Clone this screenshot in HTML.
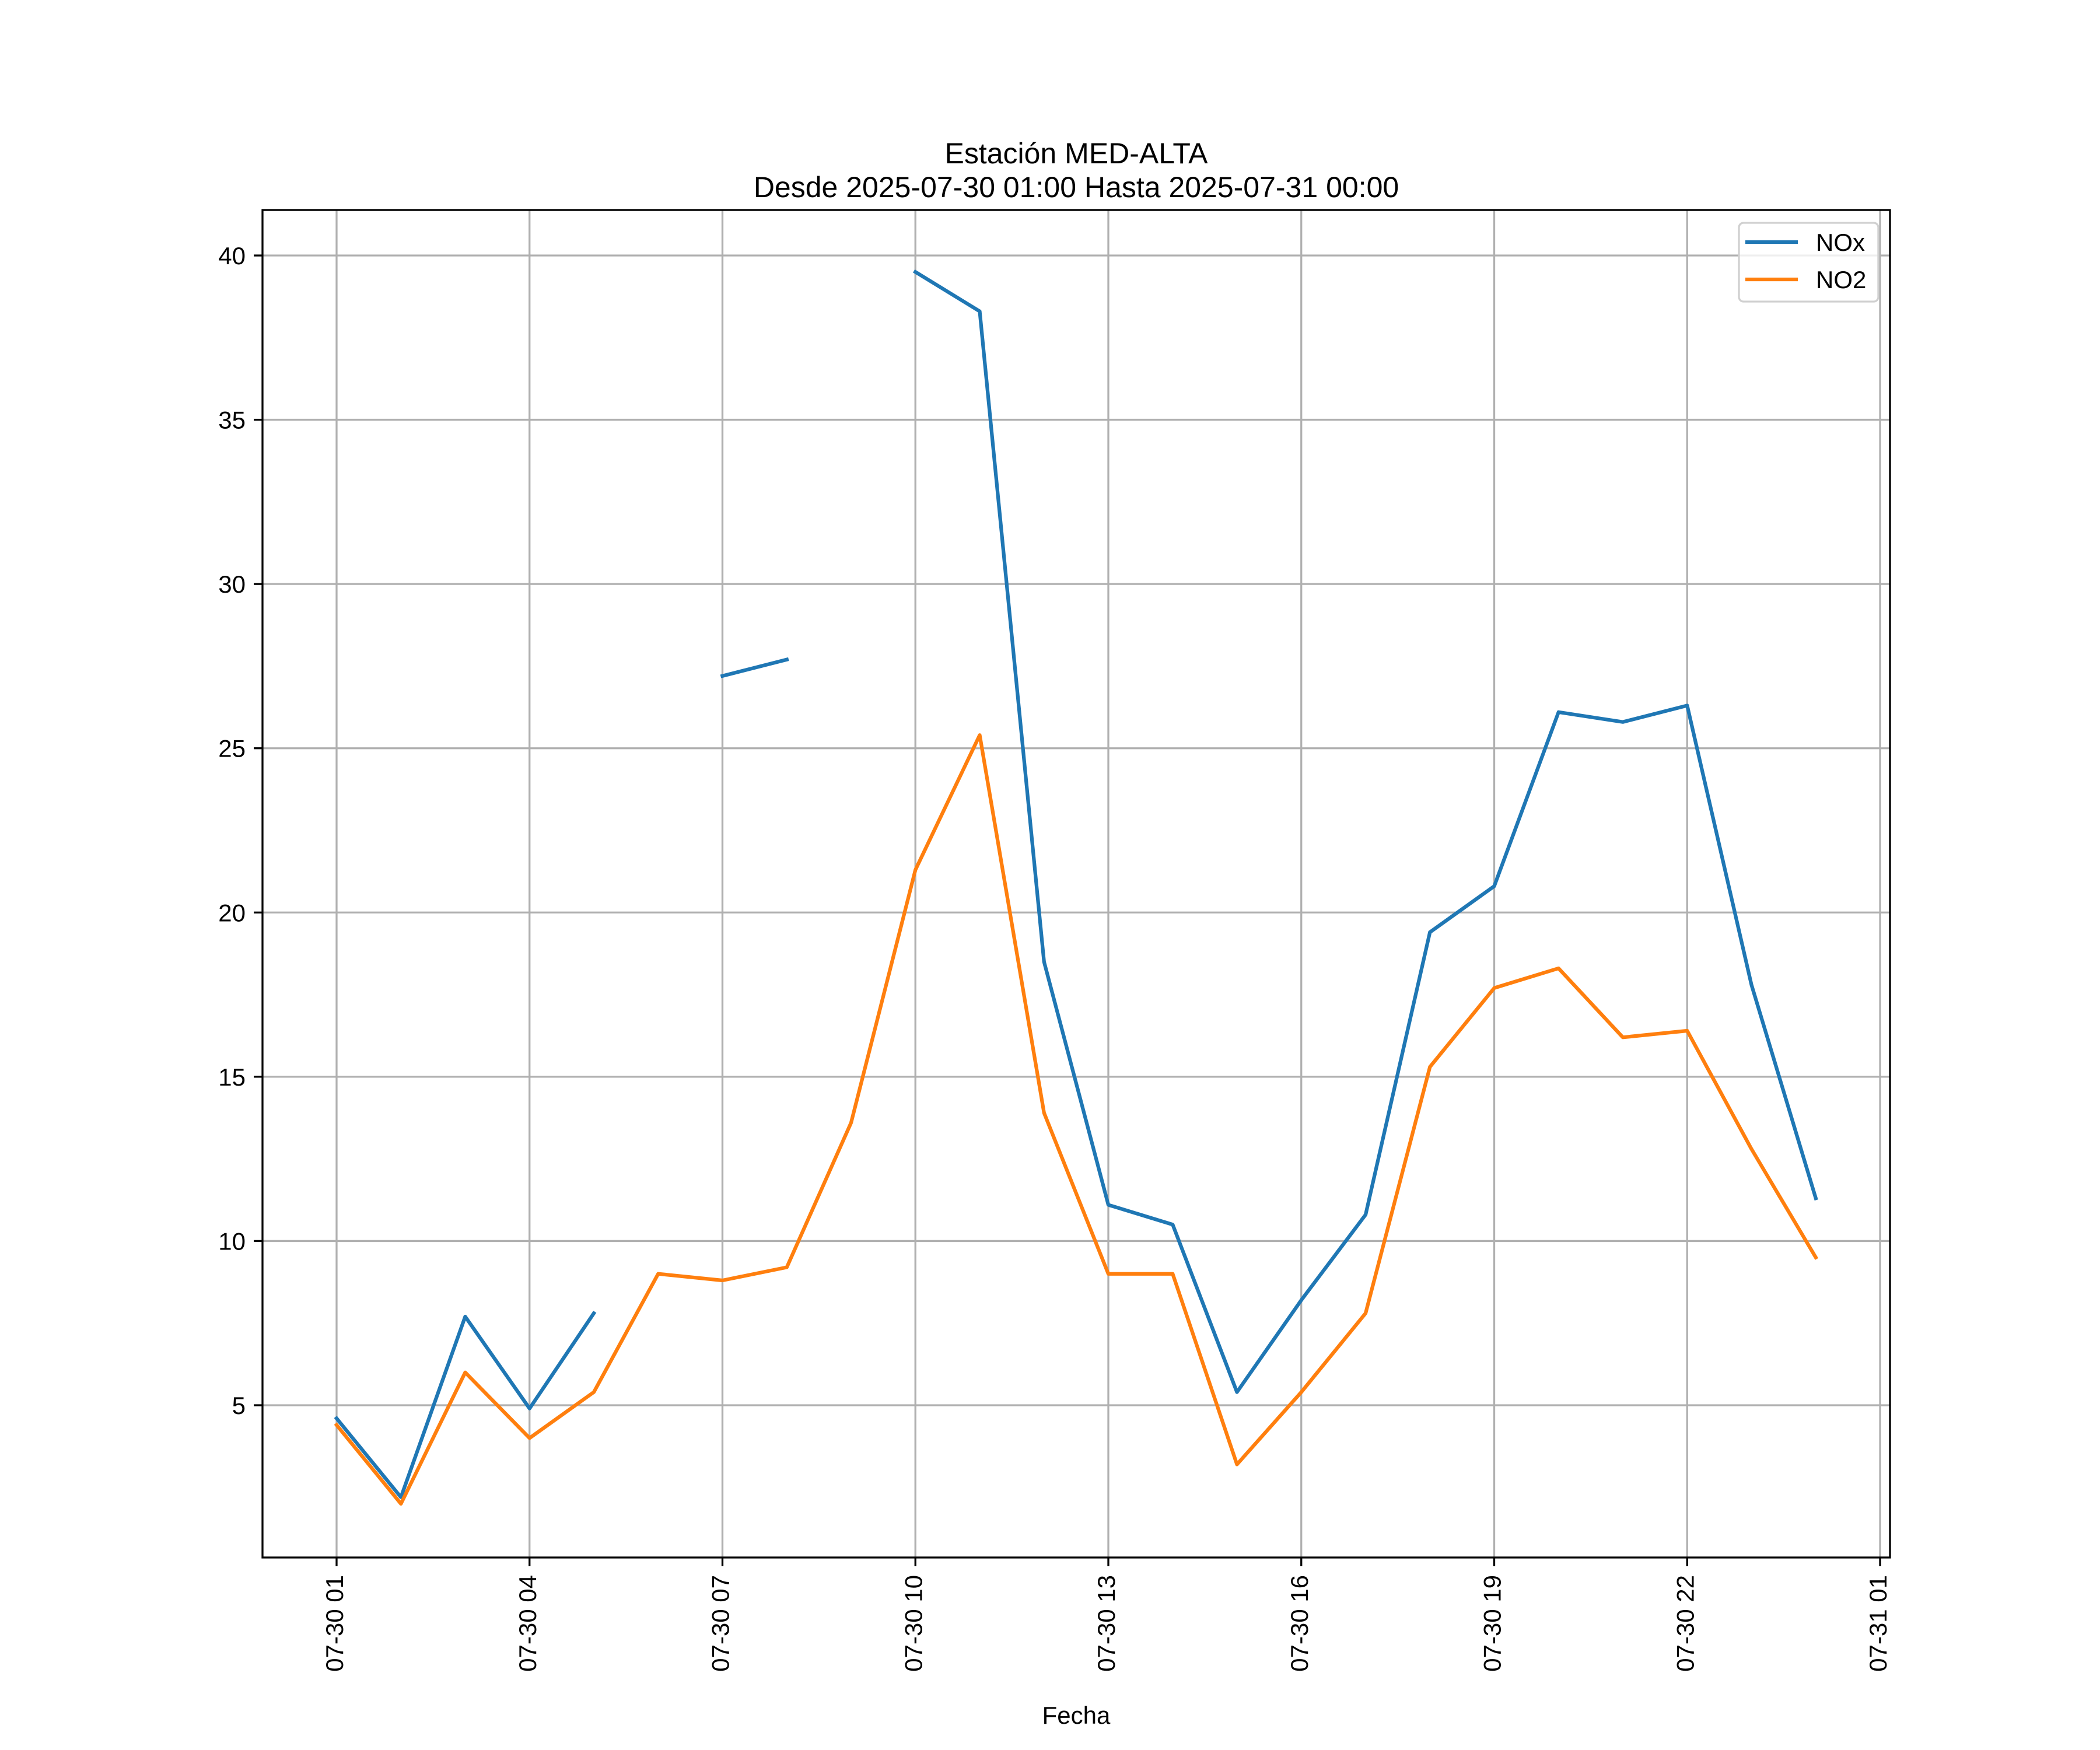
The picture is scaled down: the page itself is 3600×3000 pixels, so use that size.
<!DOCTYPE html>
<html><head><meta charset="utf-8">
<style>
html,body{margin:0;padding:0;background:#fff;}
svg{display:block;font-family:"Liberation Sans","DejaVu Sans",sans-serif;}
</style></head>
<body>
<svg id="chart" width="3600" height="3000" viewBox="0 0 3600 3000" xmlns="http://www.w3.org/2000/svg">
<rect width="3600" height="3000" fill="#fff"/>
<text x="1845" y="280" font-size="50" text-anchor="middle">Estación MED-ALTA</text>
<text x="1845" y="338" font-size="50" text-anchor="middle">Desde 2025-07-30 01:00 Hasta 2025-07-31 00:00</text>
<g id="grid"></g>
<g id="series"></g>
<rect x="450" y="360" width="2790" height="2310" fill="none" stroke="#000" stroke-width="3.3"/>
<g id="ticks"></g>
<text x="1845" y="2955" font-size="42" text-anchor="middle">Fecha</text>
<g>
<rect x="2981" y="382" width="239" height="135" rx="8" fill="#fff" fill-opacity="0.8" stroke="#d0d0d0" stroke-width="3.3"/>
<line x1="2992" y1="415" x2="3082" y2="415" stroke="#1f77b4" stroke-width="6.25"/>
<text x="3113" y="430" font-size="42">NOx</text>
<line x1="2992" y1="479" x2="3082" y2="479" stroke="#ff7f0e" stroke-width="6.25"/>
<text x="3113" y="494" font-size="42">NO2</text>
</g>
</svg>
<script>
const hours = [1,2,3,4,5,6,7,8,9,10,11,12,13,14,15,16,17,18,19,20,21,22,23,24];
const noxValues = [4.6,2.2,7.7,4.9,7.8,null,27.2,27.7,null,39.5,38.3,18.5,11.1,10.5,5.4,8.2,10.8,19.4,20.8,26.1,25.8,26.3,17.8,11.3];
const no2Values = [4.4,2.0,6.0,4.0,5.4,9.0,8.8,9.2,13.6,21.3,25.4,13.9,9.0,9.0,3.2,5.4,7.8,15.3,17.7,18.3,16.2,16.4,12.8,9.5];
const xTickHours = [1,4,7,10,13,16,19,22,25];
const xTickLabels = ["07-30 01","07-30 04","07-30 07","07-30 10","07-30 13","07-30 16","07-30 19","07-30 22","07-31 01"];
const yTickValues = [5,10,15,20,25,30,35,40];

const NS = "http://www.w3.org/2000/svg";
const X0 = 577, XH = (3223 - 577) / 24;
const Y40 = 438, YU = (2409 - 438) / 35;
function xScale(h){ return X0 + (h - 1) * XH; }
function yScale(v){ return Y40 + (40 - v) * YU; }
function mk(tag, attrs, parent){
  const el = document.createElementNS(NS, tag);
  for (const k in attrs) el.setAttribute(k, attrs[k]);
  parent.appendChild(el);
  return el;
}
const grid = document.getElementById('grid');
const ticks = document.getElementById('ticks');
const series = document.getElementById('series');

xTickHours.forEach((h, i) => {
  const x = xScale(h);
  const g = mk('line', {x1:x, y1:360, x2:x, y2:2670, stroke:'#b0b0b0', 'stroke-width':3.3}, grid);
  
  
  const t = mk('line', {x1:x, y1:2670, x2:x, y2:2685, stroke:'#000', 'stroke-width':3.3}, ticks);
  
  
  const lb = mk('text', {x:x, y:2700, 'font-size':42, 'text-anchor':'end', 'dominant-baseline':'middle', transform:`rotate(-90 ${x} 2700)`}, ticks);
  lb.textContent = xTickLabels[i];
  
  
});
yTickValues.forEach(v => {
  const y = yScale(v);
  const g = mk('line', {x1:450, y1:y, x2:3240, y2:y, stroke:'#b0b0b0', 'stroke-width':3.3}, grid);
  
  
  const t = mk('line', {x1:435, y1:y, x2:450, y2:y, stroke:'#000', 'stroke-width':3.3}, ticks);
  
  
  const lb = mk('text', {x:421, y:y + 15, 'font-size':42, 'text-anchor':'end'}, ticks);
  lb.textContent = String(v);
  
  
});

function drawSeries(vals, color, name){
  let d = '', pen = false;
  vals.forEach((v, i) => {
    if (v === null || v === undefined) { pen = false; return; }
    d += (pen ? 'L' : 'M') + xScale(hours[i]).toFixed(1) + ' ' + yScale(v).toFixed(1) + ' ';
    pen = true;
  });
  const p = mk('path', {d:d, fill:'none', stroke:color, 'stroke-width':6.25, 'stroke-linejoin':'round', 'stroke-linecap':'square'}, series);
  
  
}
drawSeries(noxValues, '#1f77b4', 'nox-line');
drawSeries(no2Values, '#ff7f0e', 'no2-line');
</script>
</body></html>
